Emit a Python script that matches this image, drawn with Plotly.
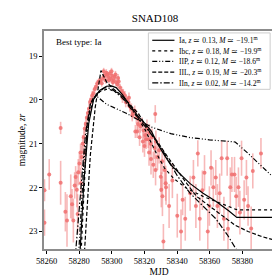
import plotly.graph_objects as go

# ---------------- data ----------------
obs_mjd = [58258.7, 58258.7, 58261.6, 58268.6, 58268.6, 58271.5, 58272.5, 58274.8, 58275.6, 58276.4,
           58277.2, 58277.8, 58278.5, 58279.4, 58280.1, 58280.8, 58281.5, 58282.1, 58282.8, 58283.4,
           58284.0, 58284.7, 58285.3, 58286.0, 58286.6, 58287.3, 58288.0, 58288.7, 58289.5, 58290.3,
           58291.1, 58292.0, 58293.0, 58293.8, 58294.6, 58295.4, 58296.2, 58297.0, 58297.8, 58298.6,
           58299.4, 58300.2, 58301.0, 58301.8, 58302.6, 58303.4, 58304.2, 58305.0, 58306.0, 58307.0,
           58308.0, 58309.0, 58310.0, 58311.0, 58312.0, 58313.0, 58314.0, 58315.0, 58315.5, 58316.5,
           58317.5, 58318.5, 58319.5, 58320.5, 58321.5, 58322.3, 58323.0, 58323.8, 58324.6, 58325.4,
           58326.2, 58327.0, 58328.0, 58329.0, 58330.0, 58330.8, 58331.6, 58332.3, 58333.0, 58333.2,
           58335.1, 58337.1, 58340.1, 58342.4, 58343.4, 58345.0, 58348.0, 58350.0, 58351.5, 58352.7,
           58353.9, 58355.5, 58356.8, 58358.8, 58359.8, 58360.8, 58362.2, 58363.7, 58364.7, 58366.1,
           58367.3, 58368.7, 58370.7, 58371.2, 58372.6, 58373.6, 58375.2, 58376.2, 58377.6, 58378.5,
           58379.5, 58381.1, 58382.5, 58383.5, 58385.4, 58386.4, 58391.4,
           58295.0, 58296.6, 58298.2, 58299.8, 58300.6, 58302.2, 58303.8, 58306.5, 58308.5, 58310.5,
           58312.5, 58314.4, 58316.0, 58317.0, 58319.0, 58320.0, 58321.0, 58322.8, 58324.0, 58326.6,
           58326.8, 58330.3, 58331.0, 58279.0, 58281.0, 58283.0]
obs_mag = [22.06, 22.80, 21.70, 20.64, 21.89, 22.55, 22.75, 22.20, 22.38, 22.75,
           21.95, 21.76, 22.05, 21.65, 21.45, 21.20, 21.30, 21.00, 20.85, 20.65,
           20.55, 20.40, 20.30, 20.20, 20.05, 20.00, 19.90, 19.85, 19.75, 19.70,
           19.62, 19.58, 19.55, 19.62, 19.50, 19.45, 19.55, 19.42, 19.48, 19.40,
           19.52, 19.45, 19.55, 19.48, 19.60, 19.65, 19.58, 19.72, 19.80, 19.85,
           19.90, 20.00, 20.05, 20.15, 20.20, 20.30, 20.25, 20.40, 20.72, 20.45,
           20.60, 20.55, 20.70, 20.80, 20.65, 20.90, 20.75, 21.00, 20.85, 21.48,
           21.10, 20.95, 21.30, 21.15, 21.75, 21.40, 23.23, 21.60, 21.90, 21.99,
           22.42, 21.84, 22.64, 23.00, 22.28, 22.71, 22.13, 21.77, 22.42, 21.22,
           22.71, 22.06, 21.66, 23.00, 22.42, 21.55, 21.99, 21.77, 22.42, 22.13,
           21.33, 22.71, 21.33, 22.94, 21.99, 21.70, 21.70, 22.20, 21.99, 22.57,
           21.33, 22.28, 21.77, 22.42, 22.93, 21.62, 21.22,
           19.35, 19.38, 19.55, 19.35, 19.60, 19.42, 19.50, 19.95, 20.05, 19.95,
           20.35, 20.72, 20.55, 20.85, 20.95, 21.05, 20.90, 21.20, 21.35, 20.32,
           21.60, 22.05, 22.20, 22.60, 21.90, 21.20]
obs_err = [0.25, 0.30, 0.35, 0.14, 0.50, 0.45, 0.60, 0.50, 0.35, 0.50,
           0.30, 0.25, 0.40, 0.30, 0.25, 0.20, 0.25, 0.20, 0.20, 0.15,
           0.15, 0.12, 0.12, 0.12, 0.10, 0.10, 0.10, 0.10, 0.08, 0.08,
           0.08, 0.08, 0.08, 0.08, 0.08, 0.08, 0.08, 0.08, 0.08, 0.08,
           0.08, 0.08, 0.08, 0.08, 0.08, 0.09, 0.09, 0.09, 0.10, 0.10,
           0.10, 0.10, 0.12, 0.12, 0.12, 0.12, 0.12, 0.14, 0.15, 0.14,
           0.15, 0.15, 0.18, 0.20, 0.20, 0.20, 0.20, 0.25, 0.20, 0.30,
           0.25, 0.25, 0.30, 0.30, 0.35, 0.30, 0.40, 0.35, 0.40, 0.40,
           0.50, 0.40, 0.50, 0.50, 0.35, 0.50, 0.40, 0.40, 0.50, 0.30,
           0.50, 0.45, 0.40, 0.50, 0.45, 0.40, 0.45, 0.40, 0.50, 0.45,
           0.40, 0.50, 0.40, 0.50, 0.45, 0.40, 0.40, 0.45, 0.45, 0.50,
           0.40, 0.45, 0.40, 0.45, 0.50, 0.40, 0.35,
           0.08, 0.08, 0.08, 0.08, 0.08, 0.08, 0.09, 0.12, 0.12, 0.12,
           0.14, 0.15, 0.15, 0.20, 0.25, 0.25, 0.22, 0.30, 0.35, 0.20,
           0.35, 0.40, 0.45, 0.45, 0.35, 0.25]

ia_mjd = [58280.3, 58282.9, 58285.8, 58288.8, 58292.7, 58296.7, 58299.6, 58302.6, 58306.5, 58310.5,
          58316.4, 58320.4, 58324.3, 58328.2, 58332.2, 58336.1, 58342.1, 58348.0, 58355.9, 58363.7,
          58371.6, 58376.6, 58400.0]
ia_mag = [23.60, 21.84, 20.54, 19.99, 19.78, 19.69, 19.68, 19.72, 19.88, 20.10,
          20.39, 20.54, 20.72, 21.01, 21.26, 21.48, 21.70, 21.91, 22.13, 22.31,
          22.53, 22.68, 22.68]

ibc_mjd = [58281.0, 58284.9, 58288.8, 58292.7, 58297.7, 58304.6, 58312.5, 58320.4, 58326.3, 58332.2,
           58338.1, 58346.0, 58355.9, 58365.7, 58375.6, 58377.6, 58400.0]
ibc_mag = [23.60, 20.54, 19.97, 19.81, 19.75, 19.85, 20.21, 20.68, 21.15, 21.55,
           21.80, 22.02, 22.20, 22.35, 22.49, 22.51, 22.51]

iip_mjd = [58279.5, 58282.9, 58286.8, 58288.8, 58290.8, 58293.7, 58296.7, 58302.6, 58308.5, 58316.4,
           58324.3, 58336.1, 58348.0, 58359.8, 58375.6, 58383.5, 58391.4, 58400.0]
iip_mag = [23.60, 21.41, 20.10, 19.94, 19.92, 20.01, 20.10, 20.20, 20.30, 20.46,
           20.62, 20.77, 20.86, 20.91, 20.96, 21.22, 21.49, 21.80]

iil_mjd = [58283.0, 58286.8, 58289.8, 58293.3, 58296.7, 58300.6, 58306.5, 58312.5, 58316.4, 58322.3,
           58328.2, 58334.2, 58340.1, 58346.0, 58351.9, 58359.8, 58367.7, 58375.6, 58383.5, 58391.4,
           58400.0]
iil_mag = [23.60, 21.26, 20.17, 19.33, 19.59, 19.74, 19.92, 20.17, 20.32, 20.68,
           20.97, 21.30, 21.62, 21.91, 22.20, 22.42, 22.64, 22.86, 23.00, 23.11,
           23.20]

iin_mjd = [58277.5, 58280.9, 58283.9, 58286.8, 58290.8, 58295.7, 58299.6, 58306.5, 58316.4, 58324.3,
           58332.2, 58340.1, 58348.0, 58355.9, 58363.7, 58370.7, 58376.6, 58378.0]
iin_mag = [23.60, 22.13, 20.75, 20.10, 19.85, 19.72, 19.74, 19.96, 20.43, 20.79,
           21.22, 21.73, 22.13, 22.42, 22.71, 23.07, 23.43, 23.60]

model_names = ["Ia, <i>z</i> \u2243 0.13, <i>M</i> \u2243 \u221219.1<sup>m</sup>",
               "Ibc, <i>z</i> \u2243 0.18, <i>M</i> \u2243 \u221219.9<sup>m</sup>",
               "IIP, <i>z</i> \u2243 0.12, <i>M</i> \u2243 \u221218.6<sup>m</sup>",
               "IIL, <i>z</i> \u2243 0.19, <i>M</i> \u2243 \u221220.3<sup>m</sup>",
               "IIn, <i>z</i> \u2243 0.02, <i>M</i> \u2243 \u221214.2<sup>m</sup>"]

x_ticks = [58260, 58280, 58300, 58320, 58340, 58360, 58380]
y_ticks = [19, 20, 21, 22, 23]

# ---------------- figure ----------------
FONT = "Liberation Serif"
dashes = ["solid", "dot", "5px,2px,1px,2px,1px,2px", "4px,2px", "6px,2px,1.5px,2px"]
models = [(ia_mjd, ia_mag), (ibc_mjd, ibc_mag), (iip_mjd, iip_mag), (iil_mjd, iil_mag), (iin_mjd, iin_mag)]

fig = go.Figure()
fig.add_trace(go.Scatter(
    x=obs_mjd, y=obs_mag, mode="markers",
    marker=dict(color="rgba(240,110,110,0.85)", size=4),
    error_y=dict(type="data", array=obs_err, color="rgba(240,128,128,0.55)", thickness=1.6, width=0),
    showlegend=False, hoverinfo="skip"))

for (mx, my), d in zip(models, dashes):
    fig.add_trace(go.Scatter(x=mx, y=my, mode="lines",
                             line=dict(color="black", width=1.2, dash=d),
                             showlegend=False, hoverinfo="skip"))

W, H = 280, 280
L, R, T, B = 28, 14, 23, 29
pw, ph = W - L - R, H - T - B


def px(xpix):
    return (xpix - L) / pw


def py(ypix):
    return 1 - (ypix - T) / ph


shapes = [dict(type="rect", xref="paper", yref="paper",
               x0=px(136), x1=px(262), y0=py(84), y1=py(25),
               fillcolor="rgba(255,255,255,0.85)", line=dict(color="#cccccc", width=1), layer="above")]
annotations = []
row_y = [32.7, 43.7, 54.7, 66.0, 77.3]
for name, d, ry in zip(model_names, dashes, row_y):
    shapes.append(dict(type="line", xref="paper", yref="paper",
                       x0=px(140), x1=px(163), y0=py(ry), y1=py(ry),
                       line=dict(color="black", width=1.2, dash=d), layer="above"))
    annotations.append(dict(text=name, xref="paper", yref="paper", x=px(166), y=py(ry),
                            xanchor="left", yanchor="middle", showarrow=False,
                            font=dict(family=FONT, size=7.5, color="black")))

annotations.append(dict(text="Best type: Ia", xref="paper", yref="paper", x=px(38), y=py(34),
                        xanchor="left", yanchor="middle", showarrow=False,
                        font=dict(family=FONT, size=9, color="black")))

axis_common = dict(showline=True, mirror=True, linecolor="#8c8c8c", linewidth=1.5,
                   ticks="outside", ticklen=3, tickcolor="black", tickwidth=1,
                   showgrid=False, zeroline=False,
                   tickfont=dict(family=FONT, size=8.5, color="black"))

fig.update_layout(
    width=W, height=H,
    margin=dict(l=L, r=R, t=T, b=B, pad=0),
    paper_bgcolor="white", plot_bgcolor="white",
    title=dict(text="SNAD108", x=147 / W, xanchor="center", xref="container",
               y=1 - 10 / H, yanchor="middle", yref="container",
               font=dict(family=FONT, size=11, color="black", weight="normal")),
    xaxis=dict(range=[58258.4, 58399.4], tickvals=x_ticks, ticktext=[str(t) for t in x_ticks],
               title=dict(text="MJD", standoff=3, font=dict(family=FONT, size=9.5, color="black")),
               **axis_common),
    yaxis=dict(range=[23.40, 18.43], tickvals=y_ticks, ticktext=[str(t) for t in y_ticks],
               title=dict(text="magnitude, <i>zr</i>", standoff=2, font=dict(family=FONT, size=9.5, color="black")),
               **axis_common),
    shapes=shapes, annotations=annotations,
    font=dict(family=FONT),
)

fig.write_html("out.html")
